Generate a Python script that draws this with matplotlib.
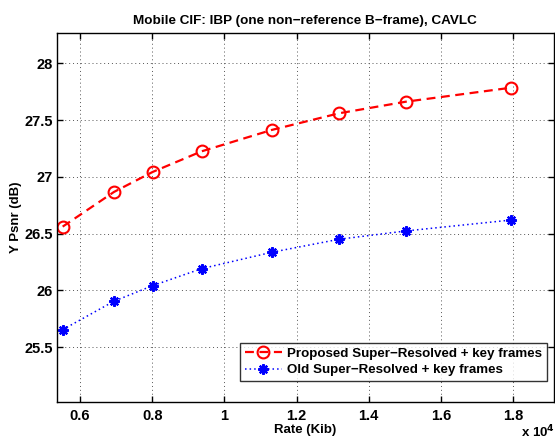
import matplotlib
matplotlib.use("Agg")
import matplotlib.pyplot as plt
from matplotlib.ticker import FuncFormatter, MultipleLocator

rate = [5520, 6940, 8010, 9370, 11310, 13180, 15030, 17940]
proposed = [26.562, 26.867, 27.043, 27.225, 27.413, 27.560, 27.662, 27.785]
old = [25.655, 25.905, 26.042, 26.192, 26.336, 26.451, 26.524, 26.620]
labels = ["Proposed Super\u2212Resolved + key frames", "Old Super\u2212Resolved + key frames"]
title = "Mobile CIF: IBP (one non\u2212reference B\u2212frame), CAVLC"

plt.rcParams['font.family'] = ['Liberation Sans', 'DejaVu Sans']
plt.rcParams['font.weight'] = 'bold'

fig = plt.figure(figsize=(5.55, 4.41), dpi=100)
ax = fig.add_axes([56.7/555, (441-402)/441, (554-56.7)/555, (402-33.3)/441])

ax.plot(rate, proposed, color='red', linestyle=(0, (4, 2.5)), linewidth=1.6,
        marker='o', markersize=8.5, markerfacecolor='none', markeredgewidth=1.5,
        label=labels[0])
ax.plot(rate, old, color='blue', linestyle=(0, (1, 2)), linewidth=1.1,
        marker=(8, 2, 0), markersize=7.5, markeredgewidth=1.6,
        label=labels[1])

ax.set_xlim(5355, 19130)
ax.set_ylim(25.018, 28.264)
ax.xaxis.set_major_locator(MultipleLocator(2000))
ax.yaxis.set_major_locator(MultipleLocator(0.5))
ax.xaxis.set_major_formatter(FuncFormatter(lambda v, p: f"{v/1e4:g}"))
ax.yaxis.set_major_formatter(FuncFormatter(lambda v, p: f"{v:g}"))

ax.grid(True, color='#555555', linestyle=(0, (1, 3)), linewidth=0.7)
ax.tick_params(direction='in', length=4, width=1, top=True, right=True,
               labelsize=10.5)
ax.tick_params(axis='x', pad=5)
ax.tick_params(axis='y', pad=3)
for lab in ax.get_xticklabels() + ax.get_yticklabels():
    lab.set_fontweight('bold')
for s in ax.spines.values():
    s.set_linewidth(1.0)

ax.set_title(title, fontsize=9.7, fontweight='bold', pad=7)
ax.set_xlabel("Rate (Kib)", fontsize=9.5, fontweight='bold', labelpad=1)
ax.yaxis.set_label_coords(-(56.7 - 22) / 497.3, 0.5)
ax.set_ylabel("Y Psnr (dB)", fontsize=9.5, fontweight='bold')

leg = ax.legend(loc='lower right', bbox_to_anchor=(0.986, 0.057), fontsize=9.6,
                frameon=True, fancybox=False, edgecolor='black',
                handlelength=2.8, borderpad=0.35, labelspacing=0.3,
                handletextpad=0.4, borderaxespad=0)
leg.get_frame().set_linewidth(1.0)
for t in leg.get_texts():
    t.set_fontweight('bold')

fig.text(521/555, 1 - 432/441, "x 10$^{\\mathbf{4}}$", fontsize=9.5, fontweight='bold',
         ha='left', va='center')

fig.savefig("out.png", dpi=100)
